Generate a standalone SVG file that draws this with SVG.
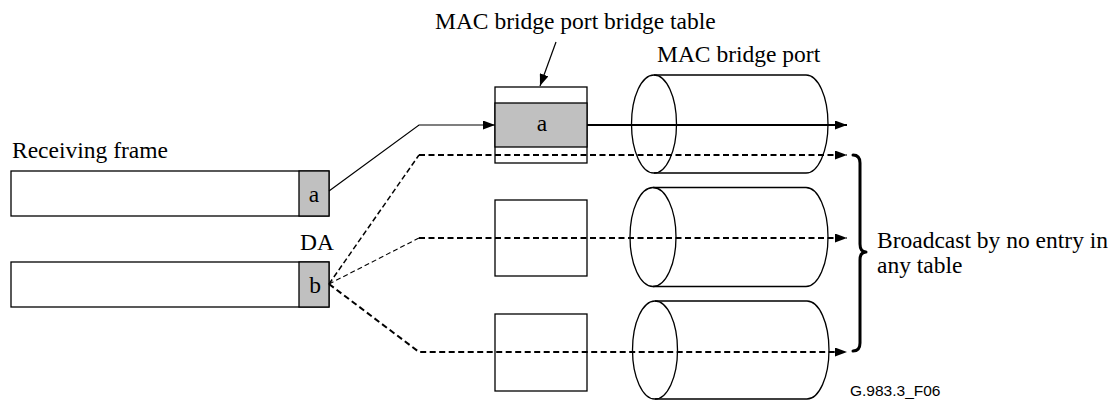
<svg xmlns="http://www.w3.org/2000/svg" width="1116" height="400" viewBox="0 0 1116 400">
  <style>
    .lbl { font-family: "Liberation Serif", "Times New Roman", serif; font-size: 23.5px; fill: #000; }
    .code { font-family: "Liberation Sans", Arial, sans-serif; font-size: 15.5px; fill: #000; }
    .box { fill: #fff; stroke: #000; stroke-width: 1.3; }
    .da { fill: #c0c0c0; stroke: #000; stroke-width: 1.3; }
    .cyl { fill: none; stroke: #000; stroke-width: 1.3; }
    .solid { fill: none; stroke: #000; stroke-width: 2; }
    .thin { fill: none; stroke: #000; stroke-width: 1.2; }
    .dash { fill: none; stroke: #000; stroke-width: 2; stroke-dasharray: 6 3.5; }
    .dash-mid { fill: none; stroke: #000; stroke-width: 1.5; stroke-dasharray: 5.5 3; }
    .dash-thin { fill: none; stroke: #000; stroke-width: 1.1; stroke-dasharray: 5 3; }
    .brace { fill: none; stroke: #000; stroke-width: 3; stroke-linecap: round; stroke-linejoin: round; }
  </style>
  <defs>
    <marker id="head" markerUnits="userSpaceOnUse" markerWidth="12" markerHeight="9" refX="12" refY="4.5" orient="auto">
      <path d="M0,0 L12,4.5 L0,9 z" fill="#000"/>
    </marker>
  </defs>

  <rect width="1116" height="400" fill="#fff"/>

  <!-- receiving frames with destination address fields -->
  <g id="frame-a">
    <rect class="box" x="11" y="171" width="318" height="45"/>
    <rect class="da" x="299" y="171" width="30" height="45"/>
    <text class="lbl" x="314" y="202" text-anchor="middle">a</text>
  </g>
  <g id="frame-b">
    <rect class="box" x="11" y="262" width="318" height="45"/>
    <rect class="da" x="299" y="262" width="30" height="45"/>
    <text class="lbl" x="315" y="293" text-anchor="middle">b</text>
  </g>

  <!-- bridge tables -->
  <g id="table-1">
    <rect class="box" x="495" y="87" width="92" height="76"/>
    <rect class="da" x="495" y="103" width="92" height="44"/>
    <text class="lbl" x="542" y="131" text-anchor="middle">a</text>
  </g>
  <g id="table-2">
    <rect class="box" x="495" y="200" width="92" height="76"/>
  </g>
  <g id="table-3">
    <rect class="box" x="495" y="314" width="92" height="77"/>
  </g>

  <!-- bridge ports -->
  <g id="port-1">
    <path class="cyl" d="M654,75 L806,75 A22,49 0 0 1 806,173 L654,173"/>
    <ellipse class="cyl" cx="654" cy="124" rx="22.5" ry="49"/>
  </g>
  <g id="port-2">
    <path class="cyl" d="M653,187.5 L806,187.5 A22,49.5 0 0 1 806,286.5 L653,286.5"/>
    <ellipse class="cyl" cx="653" cy="237" rx="23" ry="49.5"/>
  </g>
  <g id="port-3">
    <path class="cyl" d="M655,301 L807,301 A22,49 0 0 1 807,399 L655,399"/>
    <ellipse class="cyl" cx="655" cy="350" rx="22.5" ry="49"/>
  </g>

  <!-- forwarding paths -->
  <g id="connectors">
    <polyline class="thin" points="329,191 419,125 495,125" marker-end="url(#head)"/>
    <line class="solid" x1="587" y1="125" x2="847" y2="125" marker-end="url(#head)"/>
    <line class="dash-mid" x1="329" y1="284" x2="419" y2="155"/>
    <line class="dash" x1="419" y1="155" x2="847" y2="155" marker-end="url(#head)"/>
    <line class="dash-thin" x1="329" y1="284" x2="419" y2="238"/>
    <line class="dash" x1="419" y1="238" x2="847" y2="238" marker-end="url(#head)"/>
    <polyline class="dash" points="329,284 419,352 847,352" marker-end="url(#head)"/>
    <line class="thin" x1="556" y1="42" x2="540" y2="86" marker-end="url(#head)"/>
  </g>

  <!-- broadcast brace -->
  <g id="brace">
    <path class="brace" d="M853,155 Q860,155 860,163 L860,244 Q860,252 866,252 Q860,252 860,260 L860,343 Q860,351 853,351"/>
  </g>

  <!-- labels -->
  <text class="lbl" x="435" y="29">MAC bridge port bridge table</text>
  <text class="lbl" x="657" y="62">MAC bridge port</text>
  <text class="lbl" x="12" y="158">Receiving frame</text>
  <text class="lbl" x="300" y="250">DA</text>
  <text class="lbl" x="877" y="248">Broadcast by no entry in</text>
  <text class="lbl" x="877" y="273">any table</text>
  <text class="code" x="850" y="396">G.983.3_F06</text>
</svg>
